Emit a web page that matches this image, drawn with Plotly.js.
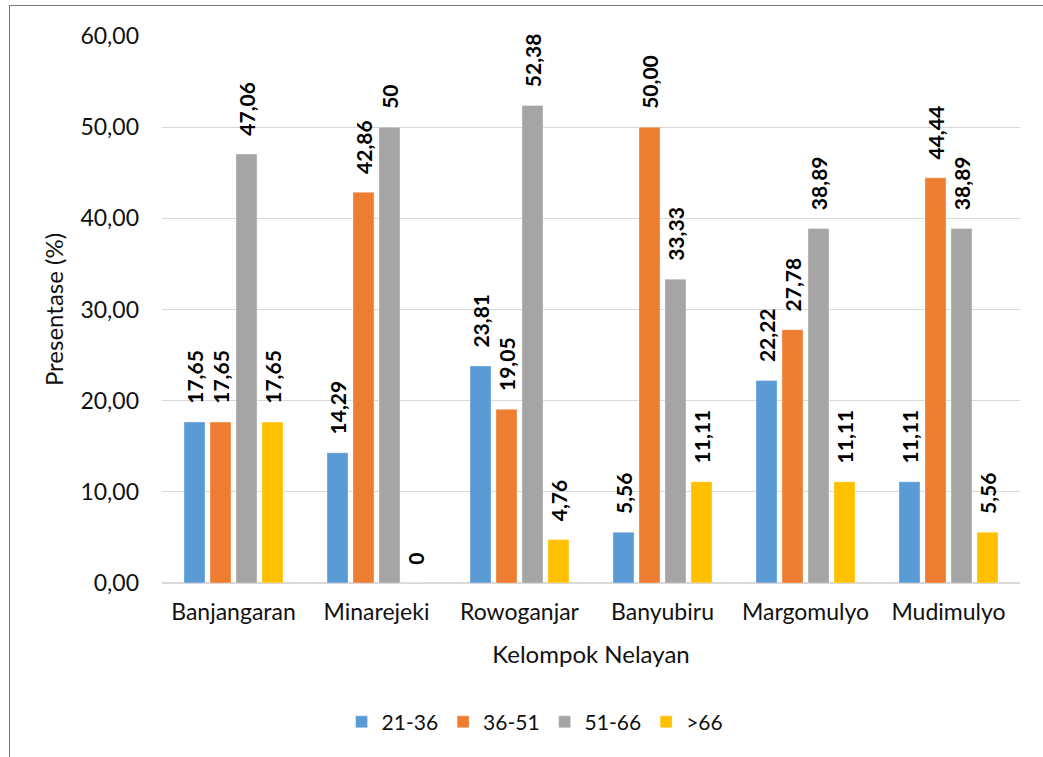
<!DOCTYPE html>
<html>
<head>
<meta charset="utf-8">
<script src="https://cdn.plot.ly/plotly-3.0.1.min.js"></script>
<style>
  html, body { margin: 0; padding: 0; background: #fff; }
  #wrap { position: relative; width: 1043px; height: 757px; }
  #chart { position: absolute; left: 0; top: 0; width: 1043px; height: 757px; }
  #frame { position: absolute; left: 9px; top: 5px; right: -5px; bottom: -5px;
           border-left: 1.5px solid #7a7a7a; border-top: 1.5px solid #7a7a7a; pointer-events: none; }
</style>
</head>
<body>
<div id="wrap"><div id="chart"></div><div id="frame"></div></div>
<script>
var categories = ["Banjangaran", "Minarejeki", "Rowoganjar", "Banyubiru", "Margomulyo", "Mudimulyo"];
var seriesNames = ["21-36", "36-51", "51-66", ">66"];
var s2136 = [17.65, 14.29, 23.81, 5.56, 22.22, 11.11];
var s3651 = [17.65, 42.86, 19.05, 50.00, 27.78, 44.44];
var s5166 = [47.06, 50, 52.38, 33.33, 38.89, 38.89];
var s66 = [17.65, 0, 4.76, 11.11, 11.11, 5.56];
var lbl2136 = ["17,65", "14,29", "23,81", "5,56", "22,22", "11,11"];
var lbl3651 = ["17,65", "42,86", "19,05", "50,00", "27,78", "44,44"];
var lbl5166 = ["47,06", "50", "52,38", "33,33", "38,89", "38,89"];
var lbl66 = ["17,65", "0", "4,76", "11,11", "11,11", "5,56"];
var yTicks = [0, 10, 20, 30, 40, 50, 60];

var colors = ["#5B9BD5", "#ED7D31", "#A5A5A5", "#FFC000"];
var values = [s2136, s3651, s5166, s66];
var labels = [lbl2136, lbl3651, lbl5166, lbl66];
var pad = "\u00a0\u00a0\u00a0";

var traces = values.map(function (v, i) {
  return {
    type: "bar",
    name: seriesNames[i],
    x: categories,
    y: v,
    text: labels[i].map(function (t) { return pad + t; }),
    textposition: "outside",
    textangle: -90,
    constraintext: "none",
    cliponaxis: false,
    textfont: { family: "Lato", size: 21, color: "#000", weight: "bold" },
    marker: { color: colors[i], line: { color: "rgba(255,255,255,0.35)", width: 1 } },
    hoverinfo: "none"
  };
});

var font = { family: "Lato", size: 23, color: "#111" };

var layout = {
  width: 1043, height: 757,
  margin: { l: 162, r: 23, t: 36, b: 174 },
  paper_bgcolor: "#fff", plot_bgcolor: "#fff",
  separators: ",.",
  barmode: "group",
  bargap: 0.273,
  bargroupgap: 0.19,
  font: font,
  showlegend: true,
  legend: {
    orientation: "h", xref: "container", yref: "container",
    x: 0.513, xanchor: "center", y: 0.046, yanchor: "middle",
    font: { family: "Lato", size: 21, color: "#111" },
    itemwidth: 30, traceorder: "normal"
  },
  xaxis: {
    type: "category",
    range: [-0.5, 5.5],
    showgrid: false, zeroline: false,
    showline: false,
    ticks: "", ticklabelstandoff: 13,
    tickfont: font,
    title: { text: "Kelompok Nelayan", font: { family: "Lato", size: 24, color: "#111" }, standoff: 22 }
  },
  yaxis: {
    range: [0, 60],
    tickvals: yTicks,
    tickformat: ".2f",
    showgrid: true, gridcolor: "#d9d9d9", gridwidth: 1.3,
    zeroline: true, zerolinecolor: "#d9d9d9", zerolinewidth: 1.5,
    showline: false, ticks: "",
    ticklabelstandoff: 22,
    tickfont: font,
    title: { text: "Presentase (%)", font: { family: "Lato", size: 24, color: "#111" }, standoff: 10 }
  }
};

Plotly.newPlot("chart", traces, layout, { displayModeBar: false, staticPlot: true });
</script>
</body>
</html>
